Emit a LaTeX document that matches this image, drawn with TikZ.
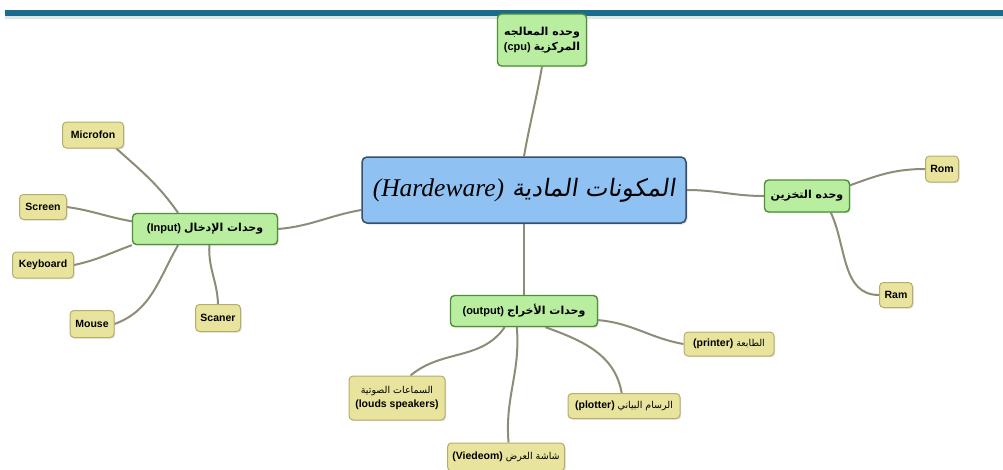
\documentclass[tikz,border=0pt]{standalone}
\usepackage{fontspec}
\setmainfont{Liberation Sans}
\newfontfamily\ar[Script=Arabic]{DejaVu Sans}
\newfontfamily\arit[Script=Arabic,FakeSlant=0.15]{DejaVu Sans}
\newfontfamily\lser{Liberation Serif}
\TeXXeTstate=1
\usetikzlibrary{backgrounds,shadows}
\definecolor{barc}{HTML}{1B6C8C}
\definecolor{barl}{HTML}{DDE7E3}
\definecolor{gfill}{HTML}{B9EDA0}
\definecolor{gdraw}{HTML}{4F8F35}
\definecolor{yfill}{HTML}{E8E49E}
\definecolor{ydraw}{HTML}{B5AE6A}
\definecolor{bfill}{HTML}{8FC1F2}
\definecolor{bdraw}{HTML}{34506C}
\definecolor{linkc}{HTML}{8E8C76}
\tikzset{
  gbox/.style={draw=gdraw, fill=gfill, line width=1.4pt, rounded corners=4pt,
    font=\bfseries\fontsize{11}{15}\selectfont, inner sep=1pt, align=center,
    drop shadow={opacity=0.25, shadow xshift=1.2pt, shadow yshift=-1.2pt}},
  leaf/.style={draw=ydraw, fill=yfill, line width=1pt, rounded corners=4pt,
    font=\bfseries\fontsize{10.5}{14}\selectfont, inner sep=1pt, align=center,
    drop shadow={opacity=0.25, shadow xshift=1.2pt, shadow yshift=-1.2pt}},
  hub/.style={draw=bdraw, fill=bfill, line width=1.5pt, rounded corners=5pt,
    inner sep=2pt, drop shadow={opacity=0.25, shadow xshift=1.5pt, shadow yshift=-1.5pt}},
  conn/.style={draw=linkc, line width=2pt}
}
\begin{document}
\begin{tikzpicture}[x=1pt,y=-1pt]
\useasboundingbox (0,0) rectangle (1003,469);
\fill[barc] (5,10) rectangle (1003,15.5);
\fill[barl] (5,16) rectangle (1003,18.5);

% central
\node[hub, minimum width=324pt, minimum height=66pt] (hw) at (524,190)
  {{\lser\itshape\fontsize{25.5}{30}\selectfont (Hardeware)}\hspace{8pt}{\arit\fontsize{24}{30}\selectfont\beginR المكونات المادية\endR}};

% level 1
\node[gbox, minimum width=89pt, minimum height=52pt] (cpu) at (542,40)
  {{\ar\beginR وحده المعالجه\endR}\\{(cpu)\ {\ar\beginR المركزية\endR}}};
\node[gbox, minimum width=85pt, minimum height=32pt] (st) at (807,196)
  {{\ar\beginR وحده التخزين\endR}};
\node[gbox, minimum width=145pt, minimum height=31pt] (in) at (205,229)
  {(Input)\ {\ar\beginR وحدات الإدخال\endR}};
\node[gbox, minimum width=147pt, minimum height=31pt] (out) at (524,311)
  {(output)\ {\ar\beginR وحدات الأخراج\endR}};

% leaves
\node[leaf, minimum width=33pt, minimum height=26pt] (rom) at (942,169) {Rom};
\node[leaf, minimum width=33pt, minimum height=25pt] (ram) at (896,295) {Ram};
\node[leaf, minimum width=61pt, minimum height=26pt] (mic) at (93,135) {Microfon};
\node[leaf, minimum width=47pt, minimum height=25pt] (scr) at (43,207) {Screen};
\node[leaf, minimum width=61pt, minimum height=26pt] (kb) at (43,265) {Keyboard};
\node[leaf, minimum width=44pt, minimum height=27pt] (mou) at (92,324) {Mouse};
\node[leaf, minimum width=45pt, minimum height=27pt] (scn) at (218,318) {Scaner};
\node[leaf, minimum width=90pt, minimum height=24pt] (prn) at (729,344)
  {(printer)\ {\ar\mdseries\fontsize{9.5}{12}\selectfont\beginR الطابعة\endR}};
\node[leaf, minimum width=96pt, minimum height=44pt] (spk) at (397,398)
  {{\ar\mdseries\fontsize{9.5}{12}\selectfont\beginR السماعات الصوتية\endR}\\{(louds speakers)}};
\node[leaf, minimum width=117pt, minimum height=28pt] (vid) at (506,457)
  {(Viedeom)\ {\ar\mdseries\fontsize{9.5}{12}\selectfont\beginR شاشة العرض\endR}};
\node[leaf, minimum width=112pt, minimum height=25pt] (plt) at (624,406)
  {(plotter)\ {\ar\mdseries\fontsize{9.5}{12}\selectfont\beginR الرسام البياني\endR}};

\begin{scope}[on background layer]
\draw[conn] (hw.north) to[out=80,in=-100] (cpu.south);
\draw[conn] (hw.east) to[out=0,in=180] (st.west);
\draw[conn] (hw.187) to[out=190,in=5] (in.east);
\draw[conn] (hw.south) to[out=-90,in=90] (out.north);
\draw[conn] (st.14) to[out=20,in=180] (rom.west);
\draw[conn] (st.-35) to[out=-65,in=180] (ram.west);
\draw[conn] (in.149) to[out=125,in=-42] (mic.-30);
\draw[conn] (in.174) to[out=170,in=-8] (scr.east);
\draw[conn] (in.south west) to[out=200,in=12] (kb.east);
\draw[conn] (in.211) to[out=240,in=20] (mou.east);
\draw[conn] (in.-75) to[out=-93,in=92] (scn.north);
\draw[conn] (out.-7) to[out=-5,in=170] (prn.west);
\draw[conn] (out.220) to[out=235,in=40] (spk.59);
\draw[conn] (out.246) to[out=-85,in=95] (vid.80);
\draw[conn] (out.-37) to[out=-20,in=100] (plt.100);
\end{scope}
\end{tikzpicture}
\end{document}
